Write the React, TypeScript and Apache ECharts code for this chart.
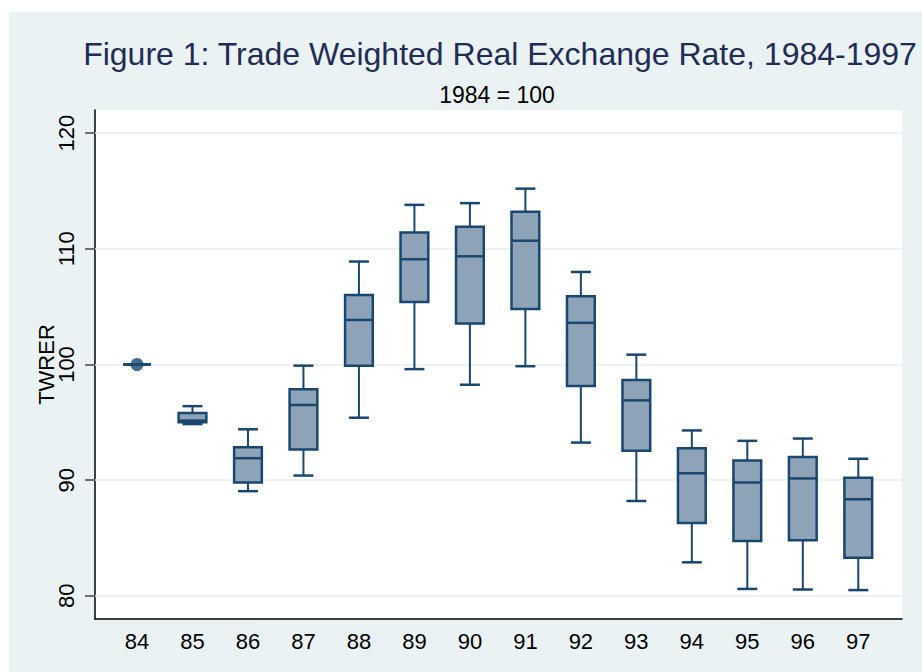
import React, { useEffect, useRef } from "react";
import * as echarts from "echarts";

const years = [84, 85, 86, 87, 88, 89, 90, 91, 92, 93, 94, 95, 96, 97];
const lowWhisker = [100, 94.85, 89.05, 90.4, 95.4, 99.6, 98.25, 99.85, 93.25, 88.2, 82.9, 80.6, 80.55, 80.5];
const q1 = [100, 95.0, 89.8, 92.65, 99.9, 105.4, 103.55, 104.8, 98.15, 92.55, 86.3, 84.75, 84.8, 83.3];
const median = [100, 95.15, 91.9, 96.5, 103.85, 109.1, 109.35, 110.7, 103.6, 96.9, 90.6, 89.8, 90.15, 88.35];
const q3 = [100, 95.8, 92.85, 97.85, 106.0, 111.4, 111.9, 113.2, 105.9, 98.65, 92.75, 91.7, 92.0, 90.2];
const highWhisker = [100, 96.4, 94.4, 99.9, 108.9, 113.8, 113.95, 115.2, 108.0, 100.85, 94.3, 93.4, 93.6, 91.85];
const outsidePoints = [[84, 100]];
const yTicks = [80, 90, 100, 110, 120];

const titleText = "Figure 1: Trade Weighted Real Exchange Rate, 1984-1997";
const subtitleText = "1984 = 100";
const yName = "TWRER";

const FONT = 'Arial, "Liberation Sans", Helvetica, sans-serif';
const NAVY = "#1a476f";
const FILL = "#8fa3b8";
const GRID = "#e6eef1";

export default function App() {
  const ref = useRef<HTMLDivElement>(null);

  useEffect(() => {
    if (!ref.current) return;
    const chart = echarts.init(ref.current, null, { renderer: "svg" });
    const boxData = years.map((y, i) => [y, lowWhisker[i], q1[i], median[i], q3[i], highWhisker[i]]);

    const renderItem = (params: any, api: any) => {
      const x = api.value(0);
      const lo = api.coord([x, api.value(1)]);
      const b1 = api.coord([x, api.value(2)]);
      const md = api.coord([x, api.value(3)]);
      const b3 = api.coord([x, api.value(4)]);
      const hi = api.coord([x, api.value(5)]);
      const unit = api.size([1, 0])[0];
      const bw = unit * 0.5;
      const cw = unit * 0.36;
      const cx = lo[0];
      const ws = { stroke: NAVY, lineWidth: 2 };
      return {
        type: "group",
        children: [
          { type: "line", shape: { x1: cx, y1: hi[1], x2: cx, y2: b3[1] }, style: ws },
          { type: "line", shape: { x1: cx, y1: b1[1], x2: cx, y2: lo[1] }, style: ws },
          { type: "line", shape: { x1: cx - cw / 2, y1: hi[1], x2: cx + cw / 2, y2: hi[1] }, style: { stroke: NAVY, lineWidth: 2.5 } },
          { type: "line", shape: { x1: cx - cw / 2, y1: lo[1], x2: cx + cw / 2, y2: lo[1] }, style: { stroke: NAVY, lineWidth: 2.5 } },
          {
            type: "rect",
            shape: { x: cx - bw / 2, y: b3[1], width: bw, height: b1[1] - b3[1] },
            style: { fill: FILL, stroke: NAVY, lineWidth: 2.5 },
          },
          { type: "line", shape: { x1: cx - bw / 2, y1: md[1], x2: cx + bw / 2, y2: md[1] }, style: { stroke: NAVY, lineWidth: 2.5 } },
        ],
      };
    };

    chart.setOption({
      animation: false,
      backgroundColor: "#eaf2f3",
      textStyle: { fontFamily: FONT },
      graphic: [
        {
          type: "text",
          x: 491,
          y: 42,
          silent: true,
          style: { text: titleText, fontSize: 32, fontFamily: FONT, fill: "#1f2c56", align: "center", verticalAlign: "middle" },
        },
        {
          type: "text",
          x: 488,
          y: 83,
          silent: true,
          style: { text: subtitleText, fontSize: 23, fontFamily: FONT, fill: "#000000", align: "center", verticalAlign: "middle" },
        },
      ],
      grid: {
        left: 86,
        right: 20,
        top: 98,
        bottom: 53,
        show: true,
        backgroundColor: "#ffffff",
        borderWidth: 0,
      },
      xAxis: {
        type: "value",
        min: 83.243,
        max: 97.788,
        axisLine: { show: true, onZero: false, lineStyle: { color: "#000000", width: 1.5 } },
        axisTick: { show: false },
        splitLine: { show: false },
        axisLabel: {
          customValues: years,
          fontSize: 22,
          color: "#000000",
          fontFamily: FONT,
          margin: 11,
          formatter: (v: number) => String(Math.round(v)),
        },
      },
      yAxis: {
        type: "value",
        min: 78,
        max: 122,
        name: yName,
        nameLocation: "middle",
        nameRotate: 90,
        nameGap: 38,
        nameMoveOverlap: false,
        nameTextStyle: { fontSize: 22, color: "#000000", fontFamily: FONT },
        axisLine: { show: true, onZero: false, lineStyle: { color: "#000000", width: 1.5 } },
        axisTick: { show: true, customValues: yTicks, length: 10, lineStyle: { color: "#444444", width: 1.5 } },
        splitLine: { show: false },
        axisLabel: {
          customValues: yTicks,
          rotate: 90,
          fontSize: 22,
          color: "#000000",
          fontFamily: FONT,
          margin: 18,
        },
      },
      series: [
        {
          type: "line",
          data: [],
          z: 1,
          silent: true,
          markLine: {
            silent: true,
            z: 1,
            symbol: ["none", "none"],
            label: { show: false },
            lineStyle: { color: GRID, width: 1.5, type: "solid" },
            data: yTicks.map((v) => ({ yAxis: v })),
          },
        },
        {
          type: "custom",
          z: 3,
          renderItem,
          encode: { x: 0, y: [1, 2, 3, 4, 5] },
          data: boxData,
          silent: true,
        },
        {
          type: "scatter",
          z: 4,
          data: outsidePoints,
          symbol: "circle",
          symbolSize: 13,
          itemStyle: { color: NAVY },
          silent: true,
        },
      ],
    });
    return () => chart.dispose();
  }, []);

  return <div ref={ref} style={{ position: "absolute", left: 9, top: 12, width: 913, height: 660 }} />;
}
